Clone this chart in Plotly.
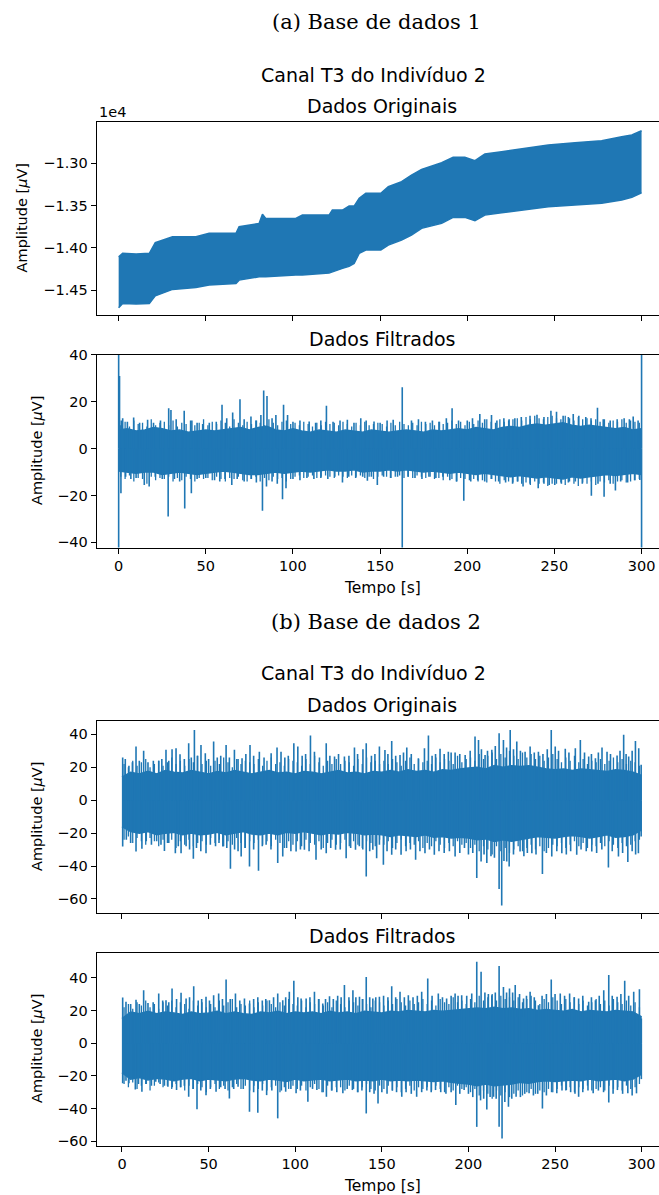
import plotly.graph_objects as go

W, H = 659, 1195
BLUE = "#1f77b4"
SANS = "DejaVu Sans"
SERIF = "DejaVu Serif"

# ---------------- (a) Base de dados 1 : Dados Originais (envelope of dense signal) ----
a_orig_t = [0, 2.3, 10, 17.6, 21, 25.2, 30.9, 44.3, 51.9, 67.3,
            69.1, 80.6, 82.5, 84.4, 101.6, 105.4, 120.7, 122.6, 128.4, 132.2,
            135.1, 138, 141.8, 150.4, 154.7, 162.3, 168, 173.8, 185.3, 191.9,
            198.6, 204.4, 210.1, 219.7, 233.1, 246.5, 261.8, 277.1, 288.6, 294.4,
            300]
a_orig_upper = [-14107, -14066, -14075, -14066, -13940, -13909, -13869, -13869, -13829, -13829,
                -13751, -13711, -13604, -13652, -13652, -13613, -13613, -13553, -13553, -13506,
                -13506, -13415, -13355, -13355, -13277, -13218, -13139, -13071, -12993, -12929,
                -12929, -12969, -12890, -12863, -12822, -12783, -12756, -12732, -12685, -12665,
                -12614]
a_orig_lower = [-14711, -14659, -14665, -14659, -14570, -14540, -14493, -14470, -14442, -14422,
                -14383, -14344, -14344, -14344, -14323, -14323, -14300, -14284, -14244, -14220,
                -14185, -14066, -14027, -14027, -13968, -13909, -13849, -13770, -13711, -13640,
                -13640, -13680, -13613, -13585, -13553, -13514, -13494, -13474, -13435, -13403,
                -13348]
a_orig_yticks = [-14500, -14000, -13500, -13000]
a_orig_yticktext = ["\u22121.45", "\u22121.40", "\u22121.35", "\u22121.30"]

# ---------------- core band grid (every 5 s) and minor-peak grid (every 2.5 s) -------
band_t = list(range(0, 301, 5))
minor_t = [round(1.2 + 2.5 * k, 1) for k in range(120)]

# ---------------- (a) Dados Filtrados ----------------
a_filt_upper = [8, 8.5, 7.5, 8, 9, 8.5, 7.5, 8, 7, 7.5,
                8, 7.5, 8, 8.5, 9, 8, 9, 9.5, 8, 7.5,
                8.5, 7.5, 7, 8, 7.5, 7, 8, 7.5, 7, 8,
                7.5, 7, 7.5, 8, 7.5, 7, 8, 7.5, 8, 8.5,
                8, 9, 8.5, 8, 9, 9.5, 9, 10, 10.5, 10,
                10.5, 11, 10, 9.5, 10, 9.5, 9, 8.5, 9, 8,
                8.5]
a_filt_lower = [-9.5, -10, -10.5, -10, -10, -11, -10.5, -10, -10.5, -11,
                -10.5, -10, -9.5, -10, -10.5, -11, -11, -10.5, -10, -10.5,
                -10, -9.5, -10, -9.5, -9, -9.5, -9.5, -9, -10, -9.5,
                -9.5, -9, -9.5, -9, -9.5, -10, -9.5, -10, -10.5, -10,
                -10.5, -11, -10.5, -11, -11.5, -12, -11.5, -12, -12.5, -12,
                -12.5, -13, -12, -12.5, -12, -11.5, -11, -11.5, -11, -10.5,
                -11]
a_filt_minor_up = [10, 11.5, 9.5, 12, 10.5, 11, 9.5, 12.5, 10, 11,
                   11.5, 10, 12, 9.5, 11, 10.5, 12, 10, 11, 12.5,
                   10, 11.5, 10.5, 12, 11, 9.5, 12.5, 11, 10, 11.5,
                   10.5, 12, 11, 10, 12.5, 11, 10, 11.5, 12, 10.5,
                   11, 10, 11.5, 10.5, 9.5, 11, 10, 11.5, 10.5, 11,
                   10, 11.5, 10.5, 9.5, 11, 10, 11.5, 10, 10.5, 11,
                   10.5, 9.5, 11, 10, 11.5, 10.5, 10, 11, 10, 11.5,
                   10.5, 11, 10, 11.5, 10.5, 11, 12, 10.5, 11.5, 10,
                   11.5, 10.5, 12, 11, 12.5, 11.5, 11, 12.5, 11.5, 12,
                   12.5, 13, 12, 13.5, 12.5, 14, 13, 12.5, 13.5, 14,
                   13, 12.5, 14, 13, 12, 13.5, 12.5, 13, 12, 12.5,
                   11.5, 12.5, 11, 12, 11.5, 12.5, 11, 12, 11.5, 11]
a_filt_minor_lo = [-12, -13, -11.5, -14, -12.5, -13, -15, -12, -13.5, -12.5,
                   -13, -12, -14, -12.5, -13.5, -12, -13, -14, -12.5, -13,
                   -12.5, -13.5, -12, -13, -14, -12.5, -13, -12, -13.5, -14,
                   -13, -12, -14, -12.5, -13.5, -12, -13, -12.5, -14, -13,
                   -12, -11.5, -12.5, -12, -11.5, -12.5, -12, -11.5, -12, -12.5,
                   -11.5, -12, -12.5, -11.5, -12, -11.5, -12.5, -12, -13, -12,
                   -11.5, -12, -12.5, -12, -11.5, -12.5, -12, -12.5, -11.5, -12,
                   -12.5, -12, -13, -12.5, -13.5, -12, -13, -14, -12.5, -13,
                   -13.5, -13, -14, -13.5, -14.5, -13, -14, -15, -13.5, -14,
                   -14.5, -14, -15, -14.5, -15.5, -14, -15, -14.5, -16, -15,
                   -15, -14.5, -15.5, -14, -15, -16, -14.5, -15, -14, -15.5,
                   -14, -14.5, -13.5, -15, -14, -13.5, -14.5, -14, -13.5, -13]
a_filt_spikes = [
    (0, 45), (0, -45), (162.7, 26.2), (162.7, -45), (300, 45), (300, -45),
    (0.5, 31), (1.5, 12), (2.3, 13), (5, 11.5), (8.6, 13.3), (12, 11), (16.6, 12.3), (20, 11),
    (24, 12), (28.7, 17.2), (30, 16.5), (33, 12.5), (37.6, 16.2), (42, 12), (45, 11),
    (48.2, 10.5), (52, 11), (56, 11.5), (59.3, 18.7), (62, 13), (65.4, 15.4), (69.6, 21.1),
    (72, 12.5), (75.9, 13.7), (79, 12), (81.6, 14.4), (83.2, 24.8), (85.1, 22.5), (88, 13),
    (90.2, 14.4), (94.6, 18.7), (96.9, 14.4), (100, 11.5), (104, 12), (109.3, 11.6), (113, 11),
    (116, 12), (119.2, 18.3), (123, 11.5), (127, 12), (131.2, 12.3), (135, 11), (138.9, 13),
    (142, 12), (146.5, 11.6), (150, 11), (154, 12), (157.5, 12.3), (168, 12), (172, 12.5),
    (176, 11.5), (180, 12), (184, 11.5), (188, 13), (191.3, 17.2), (195, 12), (200, 12),
    (203, 13), (207.2, 14.8), (210, 12.5), (213.9, 14.4), (217, 12), (221, 13), (224, 12.5),
    (227.3, 13), (231, 13.5), (236, 14), (240, 14.5), (244, 13.5), (248, 16.2), (251.2, 15.8),
    (255, 14), (258, 13.5), (260.8, 14.8), (264, 14), (268, 13.5), (271, 13), (274.7, 17.5),
    (278, 12.5), (282, 12), (286, 12.5), (290, 13), (293, 12.5), (295.2, 13.7), (298, 12),
    (1.3, -19), (4, -12), (7, -13), (10, -12.5), (14.7, -15.5), (17.5, -16.2), (21, -12),
    (25, -13), (28.4, -29), (32, -13), (35, -14), (37.9, -25.5), (41.7, -19), (45, -13),
    (50, -12.5), (55, -13.5), (58, -14), (61, -13), (64.9, -15.5), (68, -13), (72, -14),
    (76, -13), (79, -14.5), (82.5, -26.5), (84.8, -16.2), (88, -14), (91, -15), (94, -21.6),
    (96, -16.9), (100, -13), (104, -13.5), (108, -12.5), (112, -13), (116, -12.5), (120, -13),
    (124, -12), (128.4, -14.5), (132, -12), (136, -12.5), (140, -12), (142.7, -13.7),
    (145, -12), (148.4, -15.5), (152, -12), (156, -12.5), (160, -12), (166, -12),
    (170, -12.5), (174, -13), (178, -12), (182, -12.5), (186, -12), (190, -13.5), (194, -14),
    (198, -22.2), (202, -14), (206, -13.5), (210, -14), (214, -13), (218, -14), (222, -14.5),
    (226, -15), (229, -14), (232, -16.2), (236, -15), (240.7, -16.9), (244, -15), (247, -15.5),
    (250.2, -15.5), (254, -15), (258, -14.5), (262, -14), (266, -15), (271.2, -20.1),
    (275, -15), (278.5, -20.5), (282, -15), (285, -17.9), (288, -14), (292, -14.5),
    (296, -13.5), (299, -13.4)]

# ---------------- (b) Dados Originais ----------------
b_orig_upper = [14, 17, 16, 17.5, 16, 18, 17, 16.5, 18, 17,
                16, 17.5, 16.5, 18, 17, 16, 17, 18, 16.5, 17,
                16, 17.5, 17, 16, 17, 18, 16.5, 17, 16, 17.5,
                17, 18, 17, 18.5, 17.5, 18, 17, 18.5, 18, 19,
                19.5, 20, 19, 21, 20, 21, 20.5, 21, 20, 19,
                18.5, 19, 18, 19, 18.5, 18, 17.5, 18.5, 18, 17,
                15]
b_orig_lower = [-16, -19, -20, -19, -21, -20, -19.5, -21, -20, -21,
                -20.5, -19.5, -21, -20, -19, -20.5, -21, -20, -21, -19.5,
                -20, -19, -20, -21, -20, -20.5, -19.5, -20, -21, -20.5,
                -21, -22, -21, -21.5, -22, -21, -22.5, -22, -23, -22.5,
                -23, -24, -23.5, -25, -24, -25, -24, -23, -22, -22.5,
                -23, -22, -21.5, -22, -23, -22, -21, -22.5, -22, -21,
                -18]
b_orig_minor_up = [22, 20, 24, 21, 23, 25, 20, 22, 24, 21,
                   23, 26, 22, 24, 21, 25, 23, 27, 22, 24,
                   21, 24, 22, 26, 23, 20, 25, 22, 24, 23,
                   22, 25, 21, 24, 26, 22, 23, 21, 25, 24,
                   23, 21, 25, 22, 27, 23, 21, 24, 22, 25,
                   22, 24, 23, 21, 25, 22, 26, 23, 24, 22,
                   24, 22, 25, 23, 21, 24, 26, 22, 25, 23,
                   24, 22, 26, 23, 25, 24, 22, 27, 23, 25,
                   26, 24, 28, 25, 27, 29, 25, 28, 26, 30,
                   27, 25, 29, 26, 28, 25, 27, 24, 26, 28,
                   25, 23, 26, 24, 27, 23, 25, 22, 24, 23,
                   25, 22, 24, 26, 23, 25, 22, 24, 23, 21]
b_orig_minor_lo = [-24, -22, -26, -23, -25, -27, -23, -25, -28, -24,
                   -26, -24, -29, -25, -27, -24, -28, -26, -25, -27,
                   -23, -26, -24, -28, -25, -27, -23, -26, -29, -25,
                   -26, -24, -27, -25, -28, -24, -26, -29, -25, -27,
                   -25, -28, -24, -26, -27, -25, -29, -26, -24, -27,
                   -26, -24, -28, -25, -27, -29, -25, -26, -28, -24,
                   -27, -25, -29, -26, -24, -28, -26, -27, -25, -29,
                   -26, -28, -25, -27, -29, -26, -28, -25, -27, -26,
                   -29, -27, -31, -28, -30, -33, -28, -31, -29, -32,
                   -30, -28, -31, -29, -27, -30, -28, -31, -29, -27,
                   -28, -26, -29, -27, -25, -28, -26, -29, -27, -28,
                   -26, -28, -25, -27, -29, -26, -28, -27, -25, -24]
b_orig_spikes = [
    (0.4, 25.9), (1.9, 25.1), (4, 21), (6, 23), (8.1, 32.6), (10, 24), (12.5, 30.1), (15, 23),
    (18.1, 23.9), (21.2, 23.9), (23, 25), (25.4, 30.6), (27, 24), (28.9, 31), (31.2, 31.6),
    (33.5, 27.9), (36, 25), (38.5, 34.6), (40, 26), (41.8, 42.7), (43.5, 27), (45.6, 33.6),
    (48.1, 28.5), (50, 25), (52.9, 35.6), (55, 26), (57, 27), (60.1, 33.6), (62, 26),
    (64.9, 30.6), (67, 25), (69.3, 25.5), (71.5, 28), (73.9, 33.6), (76, 27), (79.3, 29.5),
    (82, 26), (86.1, 28.5), (89.5, 32), (91.8, 29.5), (94, 26), (96, 27), (99.2, 34.6),
    (101.5, 32.6), (104, 27), (106, 28), (108.8, 39.3), (111.1, 29.5), (114, 26),
    (117.9, 34.6), (120, 27), (122.7, 26.5), (125, 28), (128.4, 26.5), (131, 27), (134.2, 32),
    (136, 28), (139.1, 31), (141, 34.6), (144, 27), (146, 28), (148.6, 32.6), (151.8, 30.5),
    (153.5, 28), (155.7, 36), (158, 27), (160.5, 27.5), (162.5, 29), (164.4, 32), (167, 28),
    (171.1, 25.5), (174.6, 31.6), (176.9, 39.3), (179, 27), (181, 28), (183.6, 31.2),
    (186, 28), (188.4, 29.5), (190, 29), (192.3, 29), (195, 28), (198.1, 27.5), (201, 30),
    (203.8, 38.7), (205.8, 36.6), (207.5, 31), (209.6, 27.5), (211, 30), (213.5, 30.6),
    (215.5, 33), (217.7, 40.7), (220.2, 36.6), (222, 32), (224.1, 42.7), (226, 31),
    (227.9, 35.6), (230, 30), (232.7, 29.5), (235.6, 32.6), (238, 29), (240.4, 29.5),
    (243, 28), (245.5, 31), (247.8, 42.7), (250.1, 32.6), (252, 30), (255.9, 31.2), (258, 29),
    (261.7, 31.6), (264.6, 36.6), (267, 29), (269.4, 26.5), (271, 28), (273.3, 25.5),
    (275, 29), (277.1, 32), (280, 29.5), (282, 28), (285.8, 27.1), (287.5, 30), (289.6, 39.7),
    (291, 28), (292.5, 26.5), (294.5, 30), (296.4, 36), (298.3, 31.6), (299.7, 21.5),
    (0.4, -28.1), (2.5, -24), (5, -26), (8.1, -31.2), (11.5, -29.5), (14, -25), (17, -27),
    (20, -25), (22.5, -27), (24.5, -30.8), (27, -26), (30.8, -32.2), (32.5, -28),
    (34.1, -32.2), (37, -28), (39, -30), (41.2, -35.6), (43, -29), (45.5, -31), (48.5, -32.2),
    (51, -27), (54, -28), (56, -26), (58.2, -28.1), (60.5, -29), (62.6, -41.7), (65, -30),
    (67, -31), (68.8, -34.2), (71, -29), (73.6, -40.3), (76, -30), (78.8, -42.9), (81, -28),
    (83.2, -27.1), (86, -30), (89.9, -38.2), (92.8, -34.2), (95, -29), (97.5, -31),
    (100.5, -31.2), (103, -30), (105.3, -30.1), (108, -31), (112, -36.2), (115, -30),
    (117.9, -32.2), (120.5, -29), (123.3, -30.1), (126, -30), (129.4, -35.2), (132, -29),
    (134.8, -30.1), (137, -28), (139, -30), (141, -46.3), (143, -31), (144.8, -30.1),
    (147, -35.2), (148.6, -27.1), (150.9, -39.2), (153, -31), (155.7, -33.2), (158, -30),
    (161.1, -33.2), (164, -31), (166.5, -30), (169.5, -36.2), (172, -31), (174.9, -32.2),
    (177.5, -30), (180.3, -33.2), (183, -31), (186, -32), (189, -31), (192.3, -34.2),
    (195, -32), (197.7, -29.1), (200, -33), (202.5, -32), (204.8, -47.3), (207.3, -37.2),
    (209, -33), (210.6, -38.2), (213, -34), (215, -35), (217.7, -54), (219.2, -63.9),
    (220.5, -37), (222.1, -37.2), (223.5, -40.3), (226, -33), (229.8, -31.2), (232, -34),
    (234, -32), (236.6, -32.2), (239, -33), (242.7, -44.9), (245, -32), (248.1, -34.2),
    (251, -31), (253.9, -32.2), (256.5, -33), (259, -31), (262.5, -33.2), (265, -30),
    (268, -31), (271.2, -31.2), (274, -32), (277, -30), (280.8, -40.9), (283, -31),
    (286.6, -34.2), (289, -32), (292, -37.6), (294.5, -31), (296.5, -33), (298.1, -32.2),
    (299.7, -22)]

# ---------------- (b) Dados Filtrados ----------------
b_filt_upper = [15, 19, 18, 19.5, 18, 19, 18.5, 17.5, 19, 18,
                18.5, 19.5, 18, 19, 18, 17.5, 19, 18.5, 19.5, 18,
                19, 18.5, 19, 18, 19.5, 18.5, 19, 18, 19.5, 19,
                18.5, 19.5, 19, 20, 19.5, 19, 20, 19.5, 20, 20.5,
                21, 21.5, 21, 22, 21, 21.5, 20.5, 21, 20, 20.5,
                20, 19.5, 20.5, 19, 20, 19.5, 19, 20, 19.5, 19,
                16]
b_filt_lower = [-18, -22, -21, -22.5, -21.5, -22, -23, -22, -21.5, -23,
                -22, -22.5, -23, -22, -21.5, -22.5, -23, -22, -22.5, -23.5,
                -22, -23, -22.5, -22, -23, -22.5, -22, -23, -22.5, -23,
                -22, -23, -22.5, -23, -22.5, -23, -23.5, -23, -24, -24.5,
                -25, -26, -25, -26, -25.5, -25, -24, -24.5, -23.5, -23,
                -23.5, -23, -22.5, -23, -22, -23, -22.5, -22, -23, -22,
                -19]
b_filt_minor_up = [22, 24, 21, 25, 23, 26, 22, 24, 21, 25,
                   23, 26, 22, 25, 24, 21, 26, 23, 25, 22,
                   24, 22, 26, 23, 25, 27, 22, 24, 23, 26,
                   22, 25, 23, 26, 24, 22, 25, 23, 27, 24,
                   23, 26, 22, 25, 24, 27, 23, 25, 22, 26,
                   24, 22, 26, 25, 23, 27, 24, 22, 26, 25,
                   23, 26, 24, 27, 25, 23, 26, 24, 25, 27,
                   24, 26, 23, 27, 25, 24, 28, 25, 26, 24,
                   27, 25, 29, 26, 28, 30, 26, 29, 27, 28,
                   26, 28, 25, 27, 29, 26, 24, 27, 25, 28,
                   26, 24, 27, 25, 28, 24, 26, 23, 25, 27,
                   24, 26, 23, 27, 25, 24, 26, 23, 25, 22]
b_filt_minor_lo = [-25, -27, -24, -28, -26, -25, -29, -26, -24, -27,
                   -26, -28, -25, -27, -29, -26, -28, -25, -27, -30,
                   -27, -25, -28, -26, -29, -27, -25, -28, -26, -29,
                   -26, -28, -25, -29, -27, -26, -30, -27, -28, -26,
                   -28, -26, -29, -27, -25, -28, -30, -26, -29, -27,
                   -27, -29, -26, -28, -30, -27, -25, -28, -29, -26,
                   -28, -26, -29, -27, -30, -28, -26, -29, -27, -28,
                   -27, -29, -26, -28, -30, -27, -29, -26, -28, -27,
                   -30, -28, -32, -29, -31, -34, -29, -32, -30, -33,
                   -31, -29, -32, -30, -28, -31, -29, -30, -28, -30,
                   -28, -26, -29, -27, -30, -27, -28, -26, -29, -28,
                   -27, -29, -26, -28, -27, -29, -26, -28, -27, -25]
b_filt_spikes = [
    (0.4, 27.9), (2.3, 25.3), (5, 24), (8.1, 26.5), (10, 24), (12.5, 32.4), (15, 24.5),
    (18, 25), (21.2, 30.4), (23.5, 26), (25.4, 26.3), (27, 25), (28.9, 33.4), (31.5, 27),
    (34.1, 30.8), (37, 27.3), (39, 28), (41.4, 34.8), (44, 26), (46, 27), (48.5, 28.3),
    (50.5, 26), (52.9, 29.3), (55.8, 30.4), (58, 27), (60.1, 38.9), (62.5, 27), (65.5, 30.4),
    (68, 26), (70.7, 27.3), (73.6, 24.3), (76, 27), (78.4, 28.1), (81, 26), (83, 27),
    (85.1, 26.3), (87.5, 28), (89.9, 30.4), (92.8, 26.3), (94.5, 28), (96.6, 31.4),
    (99.2, 38.1), (101.5, 28), (103.4, 27.3), (106.3, 27.3), (108.5, 28), (111.1, 31.4),
    (113.5, 27), (115.9, 24.3), (117.5, 27), (119.8, 28.7), (122, 27), (124.5, 29),
    (126.5, 28), (128.4, 35.5), (131, 28), (133.3, 32.4), (135, 28), (137.1, 28.3), (139, 27),
    (141, 40.5), (143, 28), (144.8, 27.3), (146.5, 28), (148.6, 28.3), (151, 29), (153.5, 28),
    (155.7, 34.8), (158, 28), (160.5, 31.4), (163, 28), (165.3, 29.3), (168, 28), (170.5, 29),
    (173, 31.4), (176.5, 39.5), (179, 29), (182.6, 30.4), (185, 28), (187.4, 27.3), (190, 29),
    (192.3, 30.4), (194, 29), (196.1, 29.3), (199, 29), (201.9, 30.4), (204.8, 49.7),
    (207.3, 43.6), (209.5, 31), (211.5, 30), (213.5, 29.3), (215.5, 31), (217.7, 47.1),
    (220.2, 34.4), (222, 31), (223.7, 33.4), (225.5, 31), (227, 35.5), (229.5, 30),
    (231.8, 27.3), (233.5, 29), (235.6, 31.4), (238, 28), (240.4, 23.2), (242.5, 29),
    (245, 30), (247.8, 38.9), (250, 30), (253, 30.4), (255.5, 29), (258.4, 30.4), (261, 28),
    (263.6, 27.3), (266, 29), (269.4, 25.3), (271, 28), (273.3, 26.3), (275.5, 29),
    (278.1, 32.4), (281, 41.6), (283, 29), (285.8, 28.3), (288, 30), (290.2, 38.1),
    (292.5, 29), (295.4, 31.4), (298.7, 33), (299.8, 15.1),
    (0.4, -24.6), (2.3, -23), (4, -24.6), (7.7, -28.3), (9.5, -25), (11.5, -29.7), (14, -25),
    (17, -26), (19.5, -23.6), (22, -25), (24.5, -26), (26.5, -26.7), (29, -27),
    (31.5, -28.7), (34, -27), (36, -26), (38.5, -32.8), (41, -28), (43.3, -40.5),
    (45.5, -29), (48.5, -31.8), (51, -28), (54.3, -29.7), (57, -27), (59.5, -28),
    (62, -33.8), (64.5, -28), (67, -26.7), (70, -28), (73.6, -42), (76, -30), (78.4, -42.6),
    (81, -29), (83.5, -31.8), (86.5, -29), (89.9, -46), (92, -29), (94.5, -29.7),
    (97.5, -28), (100.5, -30.7), (103, -29), (107.3, -35.8), (110, -28), (112.5, -28.7),
    (115.5, -30), (118, -32.8), (121, -29), (124, -30), (127.5, -30.7), (130, -28),
    (133, -28.7), (136, -30), (138.5, -29), (141, -43), (143, -30), (145.5, -31),
    (147.8, -36.9), (150, -30), (153, -31), (156, -29), (158.5, -30), (161.5, -32.8),
    (164, -30), (167, -31), (170.1, -32.8), (173, -30), (176, -29), (178.5, -30),
    (181, -28.7), (184, -30), (187, -31), (190, -30), (192.7, -37.9), (195, -31),
    (197.5, -28.7), (200, -31), (202.5, -33), (204.8, -51.2), (207, -35), (208.8, -34),
    (210.6, -40.6), (212.5, -33), (214.5, -32.8), (216, -34), (217.7, -51.2), (219.4, -58.3),
    (221, -36), (223.1, -38.9), (225, -34), (227.5, -32.8), (230, -33), (232.5, -31),
    (235, -30.7), (237.5, -32), (240, -31), (242.7, -40), (245, -32), (248, -30),
    (251, -30.7), (254, -29), (256.5, -28.7), (259, -30), (261.5, -31), (263.6, -32.8),
    (266, -30), (269, -29), (272, -30.7), (275, -29), (278, -30), (281, -36.3),
    (283.5, -31), (286, -28.7), (289, -31), (292, -30.7), (294.5, -32), (297, -30.7),
    (299.8, -22)]

x_ticks = [0, 50, 100, 150, 200, 250, 300]
filt_a_yticks = [-40, -20, 0, 20, 40]
b_yticks = [-60, -40, -20, 0, 20, 40]

# ---------------- layout geometry (pixels) ----------------
LEFT = 96.7
panels = [
    dict(top=121.7, bottom=315.0, xr=[-12.6, 310.0], yr=[-14796, -12507]),
    dict(top=354.7, bottom=547.5, xr=[-12.6, 310.0], yr=[-42.2, 40.1]),
    dict(top=720.7, bottom=913.3, xr=[-14.6, 310.0], yr=[-68.7, 48.3]),
    dict(top=952.7, bottom=1146.0, xr=[-14.6, 310.0], yr=[-62.9, 55.3]),
]


def px(x):
    return x / W


def py(y):
    return 1 - y / H


fig = go.Figure()


def add_band(i, t, up, lo):
    xa = "x" if i == 0 else f"x{i+1}"
    ya = "y" if i == 0 else f"y{i+1}"
    fig.add_trace(go.Scatter(x=t, y=up, mode="lines", line=dict(color=BLUE, width=1.5),
                             xaxis=xa, yaxis=ya, hoverinfo="skip"))
    fig.add_trace(go.Scatter(x=t, y=lo, mode="lines", line=dict(color=BLUE, width=1.5),
                             fill="tonexty", fillcolor=BLUE, xaxis=xa, yaxis=ya,
                             hoverinfo="skip"))


def add_spikes(i, spikes, width=1.6):
    xa = f"x{i+1}"
    ya = f"y{i+1}"
    xs, ys = [], []
    for t, v in spikes:
        xs += [t, t, None]
        ys += [0, v, None]
    fig.add_trace(go.Scatter(x=xs, y=ys, mode="lines", line=dict(color=BLUE, width=width),
                             xaxis=xa, yaxis=ya, hoverinfo="skip", connectgaps=False))


def minor(up, lo):
    return list(zip(minor_t, up)) + list(zip(minor_t, lo))


add_band(0, a_orig_t, a_orig_upper, a_orig_lower)
add_band(1, band_t, a_filt_upper, a_filt_lower)
add_spikes(1, minor(a_filt_minor_up, a_filt_minor_lo), 1.3)
add_spikes(1, a_filt_spikes)
add_band(2, band_t, b_orig_upper, b_orig_lower)
add_spikes(2, minor(b_orig_minor_up, b_orig_minor_lo), 1.3)
add_spikes(2, b_orig_spikes)
add_band(3, band_t, b_filt_upper, b_filt_lower)
add_spikes(3, minor(b_filt_minor_up, b_filt_minor_lo), 1.3)
add_spikes(3, b_filt_spikes)

tickfont = dict(family=SANS, size=14.5, color="black")
layout = dict(width=W, height=H,
              margin=dict(l=0, r=0, t=0, b=0, pad=0, autoexpand=False),
              paper_bgcolor="white", plot_bgcolor="white", showlegend=False)

for i, p in enumerate(panels):
    xk = "xaxis" if i == 0 else f"xaxis{i+1}"
    yk = "yaxis" if i == 0 else f"yaxis{i+1}"
    ya = "y" if i == 0 else f"y{i+1}"
    xa = "x" if i == 0 else f"x{i+1}"
    layout[xk] = dict(domain=[px(LEFT), 1], range=p["xr"], anchor=ya,
                      showgrid=False, zeroline=False, showline=True, mirror=True,
                      linecolor="black", linewidth=1.1, ticks="outside", ticklen=5,
                      tickwidth=1.1, tickcolor="black", tickvals=x_ticks,
                      showticklabels=(i in (1, 3)), tickfont=tickfont, automargin=False)
    yd = dict(domain=[py(p["bottom"]), py(p["top"])], range=p["yr"], anchor=xa,
              showgrid=False, zeroline=False, showline=True, mirror=False,
              linecolor="black", linewidth=1.1, ticks="outside", ticklen=5,
              tickwidth=1.1, tickcolor="black", tickfont=tickfont, automargin=False)
    if i == 0:
        yd["tickvals"] = a_orig_yticks
        yd["ticktext"] = a_orig_yticktext
    elif i == 1:
        yd["tickvals"] = filt_a_yticks
    else:
        yd["tickvals"] = b_yticks
    layout[yk] = yd

ann = []


def text(s, x, y, size, family=SANS, anchor="center", angle=0):
    ann.append(dict(text=s, x=px(x), y=py(y), xref="paper", yref="paper",
                    xanchor=anchor, yanchor="middle", showarrow=False, textangle=angle,
                    font=dict(family=family, size=size, color="black")))


text("(a) Base de dados 1", 376, 22, 21, family=SERIF)
text("Canal T3 do Indivíduo 2", 373, 75, 19)
text("Dados Originais", 382, 106.3, 19)
text("1e4", 97, 112, 14.5, anchor="left")
text("Dados Filtrados", 382, 338.8, 19)
text("Tempo [s]", 382, 587.5, 15.5)
text("(b) Base de dados 2", 376, 621.5, 21, family=SERIF)
text("Canal T3 do Indivíduo 2", 373, 673, 19)
text("Dados Originais", 382, 704.5, 19)
text("Dados Filtrados", 382, 936.3, 19)
text("Tempo [s]", 382, 1186, 15.5)
ylab = "Amplitude [<i>μ</i>V]"
text(ylab, 22, 218.4, 14.5, angle=-90)
text(ylab, 37, 451, 14.5, angle=-90)
text(ylab, 37, 817, 14.5, angle=-90)
text(ylab, 37, 1049, 14.5, angle=-90)

layout["annotations"] = ann
fig.update_layout(**layout)
fig.write_html("out.html")
